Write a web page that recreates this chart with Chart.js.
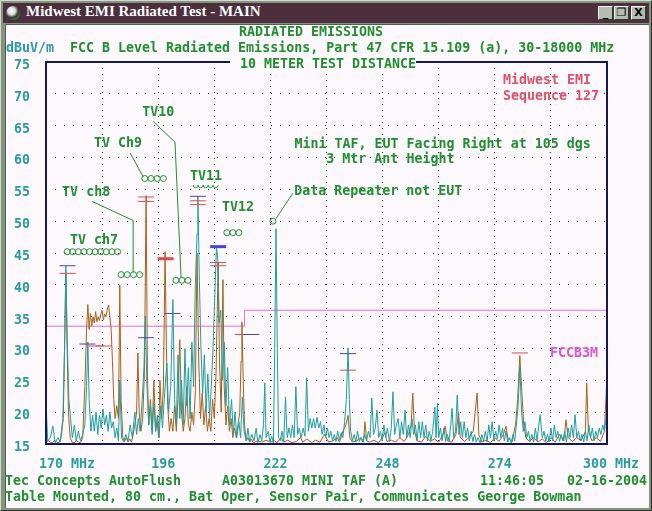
<!DOCTYPE html>
<html>
<head>
<meta charset="utf-8">
<script src="https://cdn.jsdelivr.net/npm/chart.js@4"></script>
<style>
html, body { margin: 0; padding: 0; }
body { width: 652px; height: 511px; overflow: hidden; position: relative; background: #84947f; }
#win { position: absolute; left: 0; top: 0; width: 650px; height: 509px; background: #84947f;
       border-top: 1px solid #d4dcd2; border-left: 1px solid #d4dcd2; border-right: 1px solid #2c342c; border-bottom: 1px solid #2c342c; }
#bar { position: absolute; left: 2px; top: 2px; width: 646px; height: 20px; background: #4c2e3c; }
#bar span { position: absolute; left: 23px; top: 0; line-height: 20px; color: #fff; font: bold 15px "Liberation Serif", serif; }
#icon { position: absolute; left: 3px; top: 3px; width: 14px; height: 14px; border-radius: 50%;
        background: radial-gradient(circle at 40% 35%, #fff 0, #ddd 30%, #333 55%, #2a8a2a 75%); }
.btn { position: absolute; top: 3px; width: 13px; height: 12px; background: #b4bcb2; color: #000; text-align: center;
       border-top: 1px solid #eef2ec; border-left: 1px solid #eef2ec; border-right: 1px solid #303830; border-bottom: 1px solid #303830;
       font: bold 11px "DejaVu Sans", sans-serif; line-height: 12px; }
#client { position: absolute; left: 4px; top: 23px; width: 644px; height: 484px; background: #fcf8fc;
          border-top: 1px solid #506050; border-left: 1px solid #506050; box-sizing: border-box; }
canvas { position: absolute; left: 0; top: 0; }
</style>
</head>
<body>
<div id="win">
  <div id="bar"><div id="icon"></div><span>Midwest EMI Radiated Test - MAIN</span>
    <div class="btn" style="left:595px">_</div>
    <div class="btn" style="left:611px">&#10064;</div>
    <div class="btn" style="left:628px">X</div>
  </div>
  <div id="client"></div>
</div>
<canvas id="scan" width="652" height="511"></canvas>
<script>
// sweep readings, [MHz, dBuV/m]
const tealSweep = [
  [170.0,21.5],[170.4,15.5],[171.0,16],[171.6,17.8],[172.1,15.2],[172.8,16],[173.3,15.3],[173.9,19],[174.3,30],[174.6,43],
  [174.9,32],[175.3,22],[175.7,19],[176.1,16],[176.6,18],[177.0,15.5],[177.5,17],[178.0,15.5],[178.5,16.5],[179.0,18],
  [179.4,24],[179.7,31],[180.0,22],[180.4,17],[180.8,19.5],[181.2,17],[181.6,20],[182.0,16.5],[182.4,19.5],[182.8,17.5],
  [183.2,20.5],[183.6,18],[184.0,19.5],[184.4,17],[184.8,20],[185.2,17.5],[185.6,18.5],[186.0,16],[186.4,17.5],[186.8,15.5],
  [187.1,25],[187.5,16],[188.0,15.3],[188.5,16.5],[189.0,15.5],[189.5,18],[190.0,16],[190.6,20],[191.0,16.5],[191.4,19],
  [191.8,17],[192.3,22],[192.7,27],[193.0,35],[193.4,24],[193.8,18],[194.2,21],[194.6,16.5],[195.0,21.5],[195.4,17],
  [195.8,19.5],[196.2,16],[196.6,21],[197.0,17.5],[197.4,22],[198.0,27.7],[198.4,20],[198.9,24],[199.4,37.7],[199.8,22],
  [200.2,18],[200.6,29],[201.0,19],[201.4,25],[201.8,18],[202.2,30],[202.6,21],[203.0,27],[203.4,19],[203.8,31],
  [204.2,24],[204.6,40],[205.0,48],[205.2,53.9],[205.5,42],[205.9,30],[206.3,23],[206.7,29],[207.1,20],[207.5,26],
  [207.9,19],[208.3,24],[208.7,30],[209.1,38],[209.5,46],[209.8,44],[210.1,34],[210.5,36],[210.9,25],[211.3,31],
  [211.7,21],[212.1,27],[212.5,18],[213.0,22],[213.4,16.5],[213.8,20],[214.2,16],[214.7,18.5],[215.1,16],[215.5,22.4],
  [215.9,17],[216.4,15.5],[216.8,17.5],[217.2,15.3],[217.7,16.5],[218.2,15.5],[218.7,17.5],[219.1,15.2],[219.6,16.5],[220.0,15.5],
  [220.4,18],[220.7,24.6],[221.0,16],[221.5,17],[221.9,15.3],[222.3,16.2],[222.7,15.2],[223.0,30],[223.3,48.8],[223.6,30],
  [223.9,16],[224.3,15.5],[224.7,17],[225.1,15.4],[225.5,22.4],[225.9,16],[226.3,17.5],[226.7,16],[227.1,18],[227.5,16],
  [227.9,24],[228.3,16.5],[228.7,17.5],[229.1,16],[229.6,17.5],[230.0,16.2],[230.4,25.4],[230.8,17],[231.2,19],[231.6,17.5],
  [232.0,19],[232.4,17.5],[232.8,19.2],[233.2,17.5],[233.6,18.5],[234.0,16.5],[234.4,18],[234.8,16],[235.2,17.5],[235.6,16],
  [236.0,17],[236.4,15.5],[236.8,16.5],[237.2,15.4],[237.6,17],[238.0,15.6],[238.4,16.8],[238.8,16],[239.2,18.5],[239.6,22],
  [240.0,30.1],[240.3,22],[240.6,17],[241.0,15.5],[241.4,16.5],[241.8,15.3],[242.2,17],[242.6,15.4],[243.0,16],[243.4,15.3],
  [243.8,16.5],[244.3,15.5],[244.7,17],[245.1,16],[245.5,22.2],[245.9,16.5],[246.3,17.5],[246.7,20.3],[247.1,16],[247.5,17],
  [247.9,15.5],[248.3,18],[248.7,16],[249.1,17.5],[249.6,15.4],[250.0,17.5],[250.4,23.2],[250.8,16.5],[251.2,18],[251.6,19],
  [252.0,16],[252.4,18.5],[252.8,16.5],[253.2,20.3],[253.6,16],[254.0,18],[254.4,16],[254.8,19],[255.2,16.5],[255.6,18],
  [256.0,15.5],[256.4,18.5],[256.8,16],[257.2,18.5],[257.6,16],[258.0,18],[258.4,15.5],[258.8,17],[259.2,15.5],[259.6,17],
  [260.1,20.8],[260.4,16],[260.7,21.4],[261.0,16],[261.4,17.5],[261.8,15.5],[262.2,17.5],[262.6,15.4],[263.0,16.5],[263.4,15.5],
  [263.8,18],[264.1,20.6],[264.5,16],[264.9,17],[265.3,22.7],[265.7,16.5],[266.1,18.5],[266.5,16],[266.9,18.5],[267.3,16],
  [267.7,17.5],[268.1,15.5],[268.5,17],[268.9,15.4],[269.3,16.5],[269.7,15.3],[270.1,16],[270.6,15.2],[271.0,16.5],[271.4,15.5],
  [271.8,17],[272.2,15.3],[272.6,18],[273.0,16],[273.4,18.5],[273.8,15.5],[274.2,17],[274.6,15.8],[275.0,18],[275.4,16],
  [275.8,17.5],[276.2,15.5],[276.6,17],[277.0,15.3],[277.4,16],[277.8,15.2],[278.2,16.5],[278.6,15.5],[279.0,18],[279.4,21],
  [279.8,27.2],[280.2,20],[280.6,17],[281.0,18.5],[281.4,16],[281.8,17],[282.2,15.4],[282.6,16.5],[283.0,15.3],[283.4,17.5],
  [283.8,15.5],[284.2,18],[284.5,19.6],[285.0,16],[285.4,17],[285.8,15.4],[286.2,16.5],[286.6,15.3],[287.0,17.5],[287.4,15.5],
  [287.8,18],[288.2,16],[288.6,17],[289.0,15.4],[289.4,16.5],[289.8,15.5],[290.2,17],[290.6,15.3],[291.0,17.5],[291.4,16],
  [291.8,18],[292.2,16],[292.6,19.6],[293.0,16],[293.4,17],[293.8,15.5],[294.2,16.5],[294.6,15.3],[295.0,17],[295.4,15.5],
  [295.8,18],[296.2,16],[296.6,17.5],[297.0,15.5],[297.4,17],[297.8,16],[298.2,17.5],[298.6,16.5],[299.0,18],[299.4,17],
  [300.0,20.3]
];
const brownSweep = [
  [170.0,15.2],[170.5,15.5],[171.0,15.3],[171.5,15.2],[172.0,15.6],[172.5,15.3],[173.0,15.2],[173.5,16],[174.0,19],[174.3,30],
  [174.6,41.8],[174.9,30],[175.2,20],[175.6,16],[176.0,15.3],[176.5,15.2],[177.0,15.5],[177.5,15.3],[178.0,15.2],[178.5,16],
  [179.0,24],[179.4,33],[179.7,36.9],[180.0,33],[180.3,35.5],[180.6,33.5],[180.9,35],[181.2,34],[181.5,35.8],[181.8,34.2],
  [182.1,35],[182.4,34.4],[182.7,35.4],[183.0,36],[183.3,34.5],[183.6,35.4],[183.9,35],[184.2,36.2],[184.5,36.8],[184.8,35],
  [185.1,33],[185.4,28],[185.7,22],[186.0,19],[186.4,21],[186.8,19],[187.1,40],[187.4,22],[187.8,16],[188.2,15.4],
  [188.6,16],[189.0,15.3],[189.4,15.8],[189.8,15.3],[190.2,16.5],[190.6,18],[191.0,20],[191.3,29.3],[191.6,20],[192.0,17],
  [192.4,19],[192.8,26],[193.2,54],[193.5,26],[193.8,18],[194.2,22],[194.6,17],[195.0,25],[195.4,17],[195.8,18.5],
  [196.1,16],[196.4,25],[196.8,19],[197.2,24],[197.6,45.2],[197.9,30],[198.2,21],[198.6,17],[199.0,19],[199.4,17],
  [199.8,21],[200.2,17],[200.6,22],[201.0,31.4],[201.4,20],[201.8,17],[202.2,19],[202.6,24],[203.0,18],[203.4,17],
  [203.8,20],[204.2,18],[204.6,23],[205.0,45],[205.4,28],[205.8,19],[206.2,23],[206.6,18],[207.0,21],[207.4,17],
  [207.8,19],[208.2,17],[208.6,22],[209.0,19],[209.4,26],[209.9,43.5],[210.2,28],[210.6,20],[211.0,40.8],[211.3,24],
  [211.7,18],[212.1,21],[212.5,17],[212.9,19],[213.3,16],[213.7,17.5],[214.1,16],[214.5,18],[214.9,20],[215.2,28],
  [215.4,34.2],[215.7,25],[216.0,18],[216.4,15.5],[216.8,16],[217.2,15.3],[217.6,15.8],[218.0,15.2],[219.0,15.5],[220.0,15.3],
  [221.0,15.6],[222.0,15.3],[223.0,15.5],[223.5,15.2],[224.5,16],[225.0,15.3],[226.0,15.6],[227.0,15.2],[228.0,15.4],[229.0,16],
  [229.5,15.3],[230.5,15.8],[231.5,15.2],[232.5,15.6],[233.5,15.3],[234.5,16.5],[235.5,15.3],[236.5,15.5],[237.5,16],[238.0,15.3],
  [238.8,17],[239.5,18],[240.0,19.5],[240.4,16],[241.0,15.3],[242.0,15.5],[243.0,16],[243.6,15.3],[243.9,18.5],[244.3,15.5],
  [245.0,15.3],[246.0,15.6],[247.0,15.2],[248.0,16],[248.5,16.8],[249.0,15.4],[250.0,15.6],[251.0,15.3],[252.0,16],[253.0,15.4],
  [254.0,16.5],[254.6,18],[255.0,23],[255.4,17],[256.0,15.5],[257.0,15.3],[258.0,16.2],[259.0,15.4],[260.0,15.8],[261.0,15.3],
  [262.0,16.5],[262.5,17.8],[263.0,15.5],[264.0,15.3],[265.0,16.5],[265.6,20],[266.0,16],[267.0,15.4],[268.0,16],[269.0,17],
  [269.9,23],[270.3,16.5],[271.0,15.3],[272.0,15.6],[273.0,15.2],[274.0,16],[275.0,15.4],[276.0,16.5],[276.6,17.8],[277.0,16],
  [278.0,15.3],[278.8,18],[279.3,22],[279.8,28.9],[280.2,24],[280.7,18],[281.2,16],[282.0,15.4],[283.0,16],[284.0,15.3],
  [285.0,15.8],[286.0,15.2],[287.0,16],[288.0,15.3],[289.0,16.5],[290.0,15.5],[290.5,18.8],[291.0,16],[292.0,15.4],[293.0,16],
  [294.0,15.5],[295.0,17],[295.3,24.6],[295.7,17],[296.5,15.5],[297.5,16],[298.5,15.4],[299.4,17],[300.0,25.9]
];
// FCC class B limit (10 m): band edges and levels
const limitEdges = [170, 216, 300];
const limitLevels = [33.5, 36];
// marker readings [MHz, dBuV/m]
const blueMarks = [[175.0,43.0],[179.6,30.7],[193.2,31.7],[199.3,35.5],[205.2,53.9],[217.6,32.2],[224.2,15.1],[240.0,29.2]];
const blueHeavy = [[209.9,46.0]];
const redMarks = [[175.0,41.8],[181.6,30.4],[183.4,30.4],[193.2,53.8],[193.2,53.1],[205.2,53.2],[205.2,52.6],
                  [209.9,43.5],[209.9,43.0],[215.6,32.2],[240.0,26.6],[279.8,29.3]];
const redHeavy = [[197.7,44.1]];
const yTicks = [15, 20, 25, 30, 35, 40, 45, 50, 55, 60, 65, 70, 75];
const xLabels = [[170, '170 MHz'], [196, '196'], [222, '222'], [248, '248'], [274, '274'], [300, '300 MHz']];

// notes on the plot, placed in MHz / dB
const notes = [
  { t: 'TV ch7', f: 181.1, d: 47.0 },
  { t: 'TV ch8', f: 179.3, d: 54.5 },
  { t: 'TV Ch9', f: 186.7, d: 62.2 },
  { t: 'TV10', f: 196.0, d: 67.1 },
  { t: 'TV11', f: 207.1, d: 57.05 },
  { t: 'TV12', f: 214.5, d: 52.2 },
  { t: 'Data Repeater not EUT', f: 227.5, d: 54.7, a: 'left' },
  { t: 'Mini TAF, EUT Facing Right at 105 dgs', f: 261.9, d: 62.1 },
  { t: '3 Mtr Ant Height', f: 249.8, d: 59.7 },
  { t: 'Midwest EMI', f: 275.9, d: 72.2, a: 'left', c: '#e0506a' },
  { t: 'Sequence 127', f: 275.9, d: 69.6, a: 'left', c: '#e0506a' },
  { t: 'FCCB3M', f: 286.8, d: 29.3, a: 'left', c: '#e050d8' }
];
const leaders = [
  [[180.7,53.1],[190.2,50.1],[190.2,41.9]],
  [[189.5,60.7],[192.5,57.0]],
  [[194.8,65.7],[199.9,62.4],[201.3,41.1]],
  [[227.2,54.4],[223.3,50.4]]
];
const rings = [
  { f: 174.9, d: 45.2, n: 10, gap: 5.6 },
  { f: 187.4, d: 41.6, n: 4, gap: 6.2 },
  { f: 192.9, d: 56.7, n: 4, gap: 6.2 },
  { f: 200.1, d: 40.7, n: 3, gap: 6 },
  { f: 211.9, d: 48.2, n: 3, gap: 6 },
  { f: 222.6, d: 50.0, n: 1, gap: 6 }
];
const waves = [{ f: 204.1, d: 55.5, n: 5 }];

const GREEN = '#1f8f2f', AXIS = '#2a9c9c', BG = '#fcf8fc';
const FONT = 'bold 13.3px "DejaVu Sans Mono", monospace';

function put(ctx, s, x, y, color, align) {
  ctx.save();
  ctx.translate(x, y);
  ctx.scale(1, 1.12);
  ctx.font = FONT;
  ctx.fillStyle = color;
  ctx.textAlign = align || 'left';
  ctx.textBaseline = 'middle';
  ctx.fillText(s, 0, 0);
  ctx.restore();
}

const pts = arr => arr.map(p => ({ x: p[0], y: p[1] }));
const limitPts = [];
limitLevels.forEach((lv, i) => { limitPts.push({ x: limitEdges[i], y: lv }, { x: limitEdges[i + 1], y: lv }); });

const screenText = {
  id: 'screenText',
  afterDatasetsDraw(chart) {
    const ctx = chart.ctx, a = chart.chartArea, xs = chart.scales.x, ys = chart.scales.y;
    const X = v => xs.getPixelForValue(v), Y = v => ys.getPixelForValue(v);
    ctx.save();
    ctx.strokeStyle = GREEN;
    ctx.lineWidth = 1;
    leaders.forEach(l => {
      ctx.beginPath();
      l.forEach((p, i) => i ? ctx.lineTo(X(p[0]), Y(p[1])) : ctx.moveTo(X(p[0]), Y(p[1])));
      ctx.stroke();
    });
    rings.forEach(r => {
      for (let k = 0; k < r.n; k++) {
        ctx.beginPath();
        ctx.arc(X(r.f) + k * r.gap, Y(r.d), 3, 0, Math.PI * 2);
        ctx.stroke();
      }
    });
    waves.forEach(w => {
      ctx.beginPath();
      for (let k = 0; k < w.n; k++) ctx.arc(X(w.f) + 2.5 + k * 5, Y(w.d) - 1, 2.5, Math.PI, 0, true);
      ctx.stroke();
    });
    notes.forEach(n => put(ctx, n.t, X(n.f), Y(n.d), n.c || GREEN, n.a || 'center'));

    // plot frame
    ctx.strokeStyle = '#16165c';
    ctx.lineWidth = 2;
    ctx.strokeRect(a.left, a.top, a.right - a.left, a.bottom - a.top);

    // header
    put(ctx, 'RADIATED EMISSIONS', 239, 32, GREEN);
    put(ctx, 'dBuV/m', 6, 48, AXIS);
    put(ctx, 'FCC B Level Radiated Emissions, Part 47 CFR 15.109 (a), 30-18000 MHz', 70, 48, GREEN);
    ctx.fillStyle = BG;
    ctx.fillRect(230, 56, 186, 15);
    put(ctx, '10 METER TEST DISTANCE', 240, 64, GREEN);

    // axis labels
    yTicks.forEach(v => put(ctx, String(v), 30, Y(v) + 3, AXIS, 'right'));
    xLabels.forEach((l, i) => {
      if (i === xLabels.length - 1) put(ctx, l[1], X(l[0]) + 32, 464, AXIS, 'right');
      else put(ctx, l[1], X(l[0]) - 7, 464, AXIS, 'left');
    });

    // footer
    put(ctx, 'Tec Concepts AutoFlush', 5, 481, GREEN);
    put(ctx, 'A03013670 MINI TAF (A)', 222, 481, GREEN);
    put(ctx, '11:46:05', 480, 481, GREEN);
    put(ctx, '02-16-2004', 567, 481, GREEN);
    put(ctx, 'Table Mounted, 80 cm., Bat Oper, Sensor Pair, Communicates George Bowman', 5, 497, GREEN);
    ctx.restore();
  }
};

function marks(data, color, width, radius) {
  return {
    data: pts(data), showLine: false, pointStyle: 'line', pointRadius: radius || 8,
    borderColor: color, pointBorderColor: color, borderWidth: width, pointBorderWidth: width
  };
}

new Chart(document.getElementById('scan'), {
  type: 'scatter',
  data: {
    datasets: [
      marks(blueHeavy, '#4646d6', 3),
      marks(redHeavy, '#e04848', 3),
      marks(blueMarks, '#4848b8', 1),
      marks(redMarks, '#dc4c4c', 1),
      { data: pts(tealSweep), showLine: true, borderColor: '#1e9e9e', borderWidth: 1, pointRadius: 0 },
      { data: pts(brownSweep), showLine: true, borderColor: '#a8601a', borderWidth: 1, pointRadius: 0 },
      { data: limitPts, showLine: true, borderColor: '#e070e0', borderWidth: 1, pointRadius: 0 }
    ]
  },
  options: {
    responsive: false,
    devicePixelRatio: 1,
    animation: false,
    layout: { padding: { left: 0, top: 62, right: 45, bottom: 0 } },
    plugins: { legend: { display: false }, tooltip: { enabled: false } },
    scales: {
      x: {
        type: 'linear', min: 170, max: 300,
        ticks: { stepSize: 13, display: false },
        grid: { color: '#202030', lineWidth: 1, drawTicks: false },
        border: { display: false, dash: [1, 5] },
        afterFit: s => { s.height = 67; }
      },
      y: {
        min: 15, max: 75,
        ticks: { stepSize: 5, display: false },
        grid: { color: '#202030', lineWidth: 1, drawTicks: false },
        border: { display: false, dash: [1, 8] },
        afterFit: s => { s.width = 46; }
      }
    }
  },
  plugins: [screenText]
});
</script>
</body>
</html>
